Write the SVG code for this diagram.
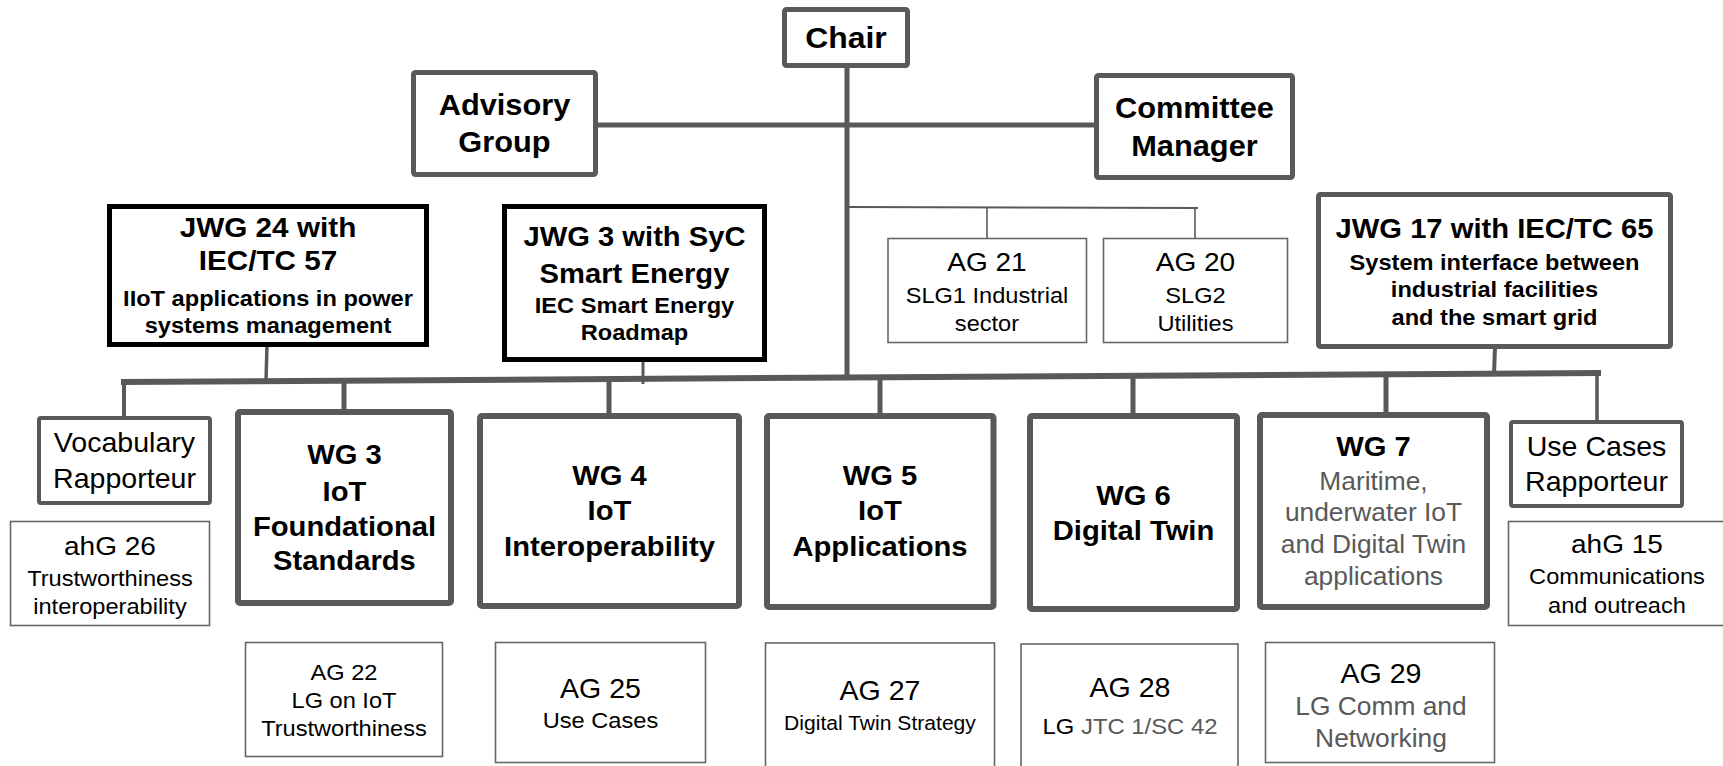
<svg xmlns="http://www.w3.org/2000/svg" width="1723" height="766" viewBox="0 0 1723 766">
<style>
text { font-family: "Liberation Sans", Arial, sans-serif; text-anchor: middle; fill: #000; transform-box: fill-box; transform-origin: center; transform: scaleX(1.05); }
.b { font-weight: bold; }
.g { fill: #595959; }
.thick { fill: #fff; stroke: #595959; stroke-width: 5; }
.blk { fill: #fff; stroke: #000; stroke-width: 5; }
.wg { fill: #fff; stroke: #595959; stroke-width: 6; }
.rap { fill: #fff; stroke: #595959; stroke-width: 4; }
.thin { fill: #fff; stroke: #666; stroke-width: 1.6; }
.c { stroke: #595959; fill: none; stroke-linecap: butt; }
</style>
<rect width="1723" height="766" fill="#fff"/>
<g id="connectors">
  <line class="c" x1="847" y1="66" x2="847" y2="380" stroke-width="5"/>
  <line class="c" x1="596" y1="125" x2="1096" y2="125" stroke-width="5"/>
  <line class="c" x1="847" y1="207" x2="1198" y2="208" stroke-width="2"/>
  <line class="c" x1="987" y1="207" x2="987" y2="239" stroke-width="1.6"/>
  <line class="c" x1="1195" y1="208" x2="1195" y2="239" stroke-width="1.6"/>
  <line class="c" x1="121" y1="382" x2="1601" y2="373" stroke-width="6"/>
  <line class="c" x1="124" y1="382" x2="124" y2="418" stroke-width="4"/>
  <line class="c" x1="344" y1="380" x2="344" y2="411" stroke-width="5"/>
  <line class="c" x1="609" y1="379" x2="609" y2="415" stroke-width="5"/>
  <line class="c" x1="880" y1="377" x2="880" y2="415" stroke-width="5"/>
  <line class="c" x1="1133" y1="376" x2="1133" y2="415" stroke-width="5"/>
  <line class="c" x1="1386" y1="374" x2="1386" y2="414" stroke-width="5"/>
  <line class="c" x1="1597" y1="373" x2="1597" y2="421" stroke-width="3.5"/>
  <line class="c" x1="267" y1="345" x2="266" y2="381" stroke-width="3.5"/>
  <line class="c" x1="643" y1="360" x2="643" y2="384" stroke-width="3"/>
  <line class="c" x1="1495" y1="347" x2="1494" y2="374" stroke-width="4"/>
</g>
<g id="chair">
  <rect class="thick" x="784.5" y="9.5" width="123" height="56" rx="2"/>
  <text class="b" x="846" y="48" font-size="30.4">Chair</text>
</g>
<g id="advisory">
  <rect class="thick" x="413.5" y="72.5" width="182" height="102" rx="2"/>
  <text class="b" x="504.5" y="115" font-size="29.3">Advisory</text>
  <text class="b" x="504.5" y="152" font-size="29.3">Group</text>
</g>
<g id="committee">
  <rect class="thick" x="1096.5" y="75.5" width="196" height="102" rx="2"/>
  <text class="b" x="1194.5" y="118" font-size="29.3">Committee</text>
  <text class="b" x="1194.5" y="156" font-size="29.3">Manager</text>
</g>
<g id="jwg24">
  <rect class="blk" x="109.5" y="206.5" width="317" height="138"/>
  <text class="b" x="268" y="237" font-size="28.3">JWG 24 with</text>
  <text class="b" x="268" y="270" font-size="28.3">IEC/TC 57</text>
  <text class="b" x="268" y="306" font-size="22.5">IIoT applications in power</text>
  <text class="b" x="268" y="333" font-size="22.5">systems management</text>
</g>
<g id="jwg3">
  <rect class="blk" x="504.5" y="206.5" width="260" height="153"/>
  <text class="b" x="634.5" y="246" font-size="27.8">JWG 3 with SyC</text>
  <text class="b" x="634.5" y="283" font-size="27.8">Smart Energy</text>
  <text class="b" x="634.5" y="313" font-size="22.5">IEC Smart Energy</text>
  <text class="b" x="634.5" y="340" font-size="22.5">Roadmap</text>
</g>
<g id="ag21">
  <rect class="thin" x="888" y="238.5" width="198.5" height="104"/>
  <text x="987" y="271" font-size="26.7">AG 21</text>
  <text x="987" y="303" font-size="22.5">SLG1 Industrial</text>
  <text x="987" y="331" font-size="22.5">sector</text>
</g>
<g id="ag20">
  <rect class="thin" x="1103.5" y="238.5" width="184" height="104"/>
  <text x="1195.5" y="271" font-size="26.7">AG 20</text>
  <text x="1195.5" y="303" font-size="22.5">SLG2</text>
  <text x="1195.5" y="331" font-size="22.5">Utilities</text>
</g>
<g id="jwg17">
  <rect class="thick" x="1318.5" y="194.5" width="352" height="152" rx="2"/>
  <text class="b" x="1494.5" y="238" font-size="27.8">JWG 17 with IEC/TC 65</text>
  <text class="b" x="1494.5" y="270" font-size="22.5">System interface between</text>
  <text class="b" x="1494.5" y="297" font-size="22.5">industrial facilities</text>
  <text class="b" x="1494.5" y="325" font-size="22.5">and the smart grid</text>
</g>
<g id="vocabulary">
  <rect class="rap" x="39" y="418" width="171" height="85" rx="2"/>
  <text x="124.5" y="452" font-size="27.2">Vocabulary</text>
  <text x="124.5" y="488" font-size="27.2">Rapporteur</text>
</g>
<g id="ahg26">
  <rect class="thin" x="10.5" y="521.5" width="199" height="104"/>
  <text x="110" y="555" font-size="26.7">ahG 26</text>
  <text x="110" y="586" font-size="22.5">Trustworthiness</text>
  <text x="110" y="614" font-size="22.5">interoperability</text>
</g>
<g id="wg3">
  <rect class="wg" x="238" y="412" width="213" height="191" rx="2"/>
  <text class="b" x="344.5" y="464" font-size="27.8">WG 3</text>
  <text class="b" x="344.5" y="501" font-size="27.8">IoT</text>
  <text class="b" x="344.5" y="536" font-size="27.8">Foundational</text>
  <text class="b" x="344.5" y="570" font-size="27.8">Standards</text>
</g>
<g id="wg4">
  <rect class="wg" x="480" y="416" width="259" height="190" rx="2"/>
  <text class="b" x="609.5" y="485" font-size="27.8">WG 4</text>
  <text class="b" x="609.5" y="520" font-size="27.8">IoT</text>
  <text class="b" x="609.5" y="556" font-size="27.8">Interoperability</text>
</g>
<g id="wg5">
  <rect class="wg" x="767" y="416" width="226.5" height="191" rx="2"/>
  <text class="b" x="880" y="485" font-size="27.8">WG 5</text>
  <text class="b" x="880" y="520" font-size="27.8">IoT</text>
  <text class="b" x="880" y="556" font-size="27.8">Applications</text>
</g>
<g id="wg6">
  <rect class="wg" x="1030" y="416" width="207" height="193" rx="2"/>
  <text class="b" x="1133.5" y="505" font-size="27.8">WG 6</text>
  <text class="b" x="1133.5" y="540" font-size="27.8">Digital Twin</text>
</g>
<g id="wg7">
  <rect class="wg" x="1260" y="415" width="227" height="192" rx="2"/>
  <text class="b" x="1373.5" y="456" font-size="27.8">WG 7</text>
  <text class="g" x="1373.5" y="490" font-size="25.1">Maritime,</text>
  <text class="g" x="1373.5" y="521" font-size="25.1">underwater IoT</text>
  <text class="g" x="1373.5" y="553" font-size="25.1">and Digital Twin</text>
  <text class="g" x="1373.5" y="585" font-size="25.1">applications</text>
</g>
<g id="usecases">
  <rect class="rap" x="1511" y="422" width="171" height="84" rx="2"/>
  <text x="1596.5" y="456" font-size="27.2">Use Cases</text>
  <text x="1596.5" y="491" font-size="27.2">Rapporteur</text>
</g>
<g id="ahg15">
  <rect class="thin" x="1508.5" y="521.5" width="230" height="104"/>
  <text x="1617" y="553" font-size="26.7">ahG 15</text>
  <text x="1617" y="584" font-size="22.5">Communications</text>
  <text x="1617" y="613" font-size="22.5">and outreach</text>
</g>
<g id="ag22">
  <rect class="thin" x="245.5" y="642.5" width="197" height="114"/>
  <text x="344" y="680" font-size="22.5">AG 22</text>
  <text x="344" y="708" font-size="22.5">LG on IoT</text>
  <text x="344" y="736" font-size="22.5">Trustworthiness</text>
</g>
<g id="ag25">
  <rect class="thin" x="495.5" y="642.5" width="210" height="120"/>
  <text x="600.5" y="698" font-size="27.2">AG 25</text>
  <text x="600.5" y="728" font-size="22.5">Use Cases</text>
</g>
<g id="ag27">
  <rect class="thin" x="765.5" y="643" width="229" height="140"/>
  <text x="880" y="700" font-size="27.2">AG 27</text>
  <text x="880" y="730" font-size="20.1">Digital Twin Strategy</text>
</g>
<g id="ag28">
  <rect class="thin" x="1021" y="644" width="217" height="140"/>
  <text x="1130" y="697" font-size="27.2">AG 28</text>
  <text x="1130" y="734" font-size="22.7">LG <tspan class="g">JTC 1/SC 42</tspan></text>
</g>
<g id="ag29">
  <rect class="thin" x="1265.5" y="642.5" width="229" height="120"/>
  <text x="1381" y="683" font-size="27.2">AG 29</text>
  <text class="g" x="1381" y="715" font-size="25.1">LG Comm and</text>
  <text class="g" x="1381" y="747" font-size="25.1">Networking</text>
</g>
</svg>
